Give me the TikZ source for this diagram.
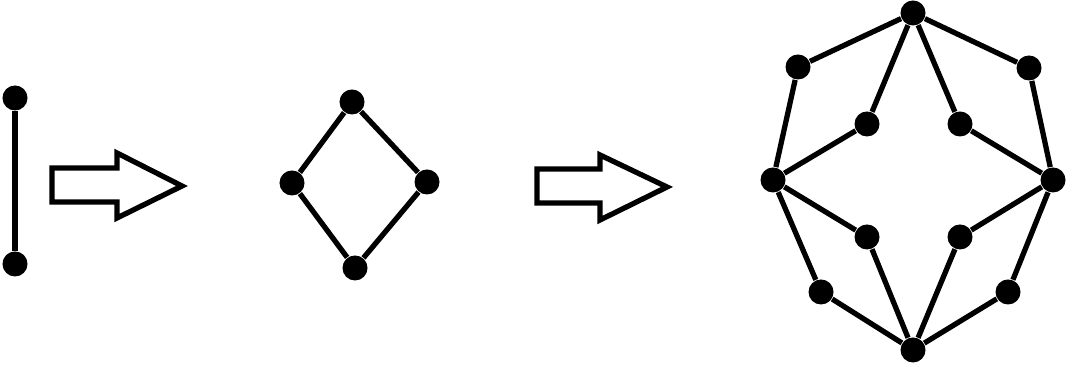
\documentclass[tikz,border=0pt]{standalone}
\usepackage{xcolor}
\usepackage{tikz}
\usetikzlibrary{calc}

\tikzset{
  vdot/.style={circle, fill=black, inner sep=0pt, minimum width=0.22cm, minimum height=0.25cm},
  edge/.style={line width=1.5pt},
  blockarrow/.style={line width=1.5pt, line join=miter, fill=white}
}

\begin{document}
\begin{tikzpicture}[x=0.01cm, y=-0.01cm]
      \useasboundingbox (0,0) rectangle (1067,371);
      % single edge
      \node[vdot] (s1) at (15,98) {};
      \node[vdot] (s2) at (15,264) {};
      \draw[edge] (s1) -- (s2);
      % first arrow
      \draw[blockarrow] (52,168) -- (117,168) -- (117,153) -- (182,186)
        -- (117,218) -- (117,202) -- (52,202) -- cycle;
      % square
      \node[vdot] (d1) at (352,102) {};
      \node[vdot] (d2) at (292,183) {};
      \node[vdot] (d3) at (427,182) {};
      \node[vdot] (d4) at (355,268) {};
      \draw[edge] (d1) -- (d2) -- (d4) -- (d3) -- (d1);
      % second arrow
      \draw[blockarrow] (537,169) -- (600,169) -- (600,155) -- (667,187)
        -- (600,220) -- (600,203) -- (537,203) -- cycle;
      % subdivided graph
      \node[vdot] (top) at (913,13) {};
      \node[vdot] (bot) at (913,350) {};
      \node[vdot] (lft) at (773,180) {};
      \node[vdot] (rgt) at (1053,180) {};
      \node[vdot] (ul) at (798,67) {};
      \node[vdot] (ur) at (1029,68) {};
      \node[vdot] (ll) at (821,292) {};
      \node[vdot] (lr) at (1008,292) {};
      \node[vdot] (iul) at (867,124) {};
      \node[vdot] (iur) at (960,124) {};
      \node[vdot] (ill) at (867,237) {};
      \node[vdot] (ilr) at (960,237) {};
      \draw[edge] (top) -- (ul) -- (lft) -- (ll) -- (bot) -- (lr) -- (rgt) -- (ur) -- (top);
      \draw[edge] (top) -- (iul) -- (lft) -- (ill) -- (bot) -- (ilr) -- (rgt) -- (iur) -- (top);
\end{tikzpicture}
\end{document}
